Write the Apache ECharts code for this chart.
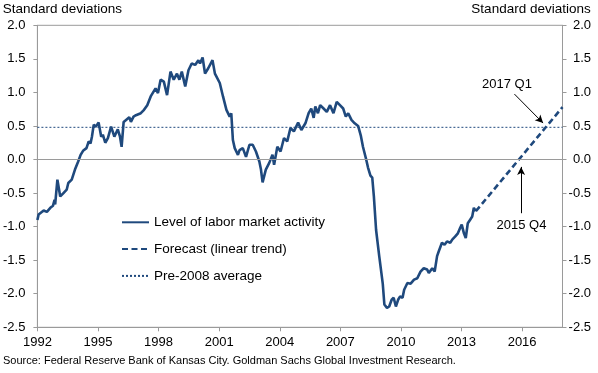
<!DOCTYPE html>
<html>
<head>
<meta charset="utf-8">
<script src="https://cdn.jsdelivr.net/npm/echarts@6/dist/echarts.min.js"></script>
<style>
html,body{margin:0;padding:0;background:#fff;}
#chart{width:598px;height:373px;}
</style>
</head>
<body>
<div id="chart"></div>
<script>
// ---- data ----
const seriesNames = ['Level of labor market activity', 'Forecast (linear trend)', 'Pre-2008 average'];
const years = [
1992.00,1992.06,1992.15,1992.31,1992.39,1992.47,1992.55,1992.64,1992.77,1992.85,1992.88,1992.99,
1993.13,1993.16,1993.29,1993.37,1993.45,1993.53,1993.70,1993.86,1994.02,1994.14,1994.26,1994.43,
1994.54,1994.63,1994.70,1994.79,1994.89,1995.03,1995.16,1995.24,1995.36,1995.49,1995.65,1995.81,
1995.90,1995.98,1996.09,1996.17,1996.27,1996.39,1996.55,1996.63,1996.71,1996.76,1996.88,1997.12,
1997.28,1997.44,1997.61,1997.85,1997.97,1998.10,1998.26,1998.42,1998.59,1998.75,1998.91,1999.03,
1999.15,1999.32,1999.48,1999.64,1999.81,1999.97,2000.05,2000.18,2000.30,2000.46,2000.67,2000.79,
2001.03,2001.19,2001.36,2001.52,2001.60,2001.68,2001.77,2001.84,2001.93,2002.01,2002.17,2002.33,
2002.50,2002.66,2002.82,2002.99,2003.07,2003.15,2003.31,2003.48,2003.64,2003.72,2003.88,2004.04,
2004.21,2004.37,2004.53,2004.70,2004.91,2005.07,2005.27,2005.43,2005.56,2005.68,2005.76,2005.89,
2006.00,2006.17,2006.33,2006.49,2006.66,2006.82,2006.98,2007.14,2007.27,2007.39,2007.55,2007.71,
2007.88,2008.01,2008.12,2008.28,2008.37,2008.49,2008.58,2008.66,2008.77,2008.93,2009.10,2009.18,
2009.31,2009.42,2009.54,2009.64,2009.75,2009.86,2009.96,2010.08,2010.16,2010.32,2010.48,2010.65,
2010.81,2010.97,2011.13,2011.30,2011.38,2011.55,2011.67,2011.79,2011.87,2012.03,2012.16,2012.28,
2012.44,2012.55,2012.68,2012.82,2012.93,2013.01,2013.12,2013.21,2013.31,2013.42,2013.53,2013.61,
2013.71
];
const activity = [
-0.90,-0.82,-0.80,-0.76,-0.77,-0.78,-0.80,-0.72,-0.69,-0.60,-0.67,-0.30,
-0.55,-0.56,-0.50,-0.48,-0.45,-0.35,-0.30,-0.15,-0.03,0.07,0.13,0.17,
0.27,0.24,0.34,0.52,0.49,0.55,0.34,0.37,0.25,0.32,0.49,0.34,
0.32,0.45,0.34,0.19,0.56,0.59,0.63,0.56,0.54,0.64,0.66,0.69,
0.74,0.81,0.94,1.06,0.99,1.19,1.16,0.96,1.31,1.19,1.28,1.19,
1.31,1.09,1.33,1.43,1.41,1.48,1.43,1.52,1.28,1.36,1.48,1.28,
1.14,0.94,0.74,0.64,0.69,0.29,0.17,0.19,0.07,0.14,0.17,0.04,
0.22,0.22,0.12,-0.03,-0.15,-0.34,-0.15,-0.05,0.07,-0.08,0.19,0.12,
0.32,0.27,0.47,0.42,0.55,0.44,0.54,0.69,0.76,0.62,0.79,0.69,
0.81,0.76,0.71,0.81,0.69,0.86,0.81,0.76,0.64,0.69,0.59,0.54,
0.50,0.36,0.19,0.00,-0.12,-0.24,-0.27,-0.55,-1.05,-1.45,-1.85,-2.16,
-2.21,-2.19,-2.09,-2.06,-2.19,-2.09,-2.04,-2.06,-1.94,-1.84,-1.85,-1.79,
-1.77,-1.67,-1.62,-1.64,-1.69,-1.62,-1.67,-1.44,-1.37,-1.24,-1.27,-1.22,
-1.24,-1.19,-1.15,-1.10,-1.02,-0.97,-1.10,-1.17,-0.95,-0.90,-0.85,-0.72,
-0.77
];
const forecastYears = [2013.71, 2018];
const forecastValues = [-0.77, 0.78];
const averageYears = [1992, 2018];
const averageValues = [0.48, 0.48];
const annotationTexts = ['2017 Q1', '2015 Q4'];
const arrow2017Q1 = [[2015.62, 0.975], [2017.04, 0.543]];
const arrow2015Q4 = [[2015.95, -0.80], [2015.95, -0.11]];
const axisTitle = 'Standard deviations';
const sourceText = 'Source: Federal Reserve Bank of Kansas City. Goldman Sachs Global Investment Research.';

// ---- chart ----
const zip = (xs, ys) => xs.map((x, i) => [x, ys[i]]);
const FONT = 'Liberation Sans, Arial, sans-serif';
const GREY = '#9a9a9a';
const BLUE = '#1F497D';

const chart = echarts.init(document.getElementById('chart'), null, {renderer: 'canvas'});

const yAxisBase = {
  type: 'value', min: -2.5, max: 2, interval: 0.5,
  axisLine: {show: true, lineStyle: {color: GREY, width: 1}},
  axisTick: {show: true, length: 4, lineStyle: {color: GREY}},
  splitLine: {show: false},
  axisLabel: {fontFamily: FONT, fontSize: 13, color: '#000', formatter: v => v.toFixed(1)}
};

chart.setOption({
  animation: false,
  grid: {left: 31.5, right: 35.5, top: 25.3, bottom: 45.7, show: true, borderColor: GREY, borderWidth: 1, containLabel: false},
  xAxis: {
    type: 'value', min: 1992, max: 2018, interval: 3,
    axisLine: {show: true, onZero: false, lineStyle: {color: GREY, width: 1}},
    axisTick: {show: true, length: 4, lineStyle: {color: GREY}},
    splitLine: {show: false},
    axisLabel: {fontFamily: FONT, fontSize: 13, color: '#000', margin: 9, showMaxLabel: false, formatter: v => String(Math.round(v))}
  },
  yAxis: [
    Object.assign({}, yAxisBase, {position: 'left', axisLabel: Object.assign({}, yAxisBase.axisLabel, {margin: 12})}),
    Object.assign({}, yAxisBase, {position: 'right', axisLabel: Object.assign({}, yAxisBase.axisLabel, {margin: 28.5, align: 'right'})})
  ],
  legend: {
    data: seriesNames,
    orient: 'vertical',
    left: 121, top: 215.3,
    padding: 0,
    itemWidth: 27, itemHeight: 14, itemGap: 12.8,
    itemStyle: {opacity: 0, color: 'rgba(0,0,0,0)', borderWidth: 0},
    textStyle: {fontFamily: FONT, fontSize: 13.5, color: '#000'}
  },
  graphic: [
    {type: 'text', left: 2.7, top: 2, style: {text: axisTitle, font: '13.5px ' + FONT, fill: '#000'}},
    {type: 'text', right: 7.3, top: 2, style: {text: axisTitle, font: '13.5px ' + FONT, fill: '#000'}},
    {type: 'text', left: 3, top: 355.5, style: {text: sourceText, font: '11px ' + FONT, fill: '#000'}},
    {type: 'text', x: 507, y: 84.7, style: {text: annotationTexts[0], font: '13px ' + FONT, fill: '#000', align: 'center', verticalAlign: 'middle'}},
    {type: 'text', x: 521.5, y: 225.5, style: {text: annotationTexts[1], font: '13px ' + FONT, fill: '#000', align: 'center', verticalAlign: 'middle'}}
  ],
  series: [
    {
      name: seriesNames[2], type: 'line', data: zip(averageYears, averageValues),
      symbol: 'none', showSymbol: false,
      lineStyle: {color: BLUE, width: 1, type: [2, 2]}, itemStyle: {color: BLUE},
      z: 2,
      markLine: {
        silent: true, symbol: 'none', label: {show: false},
        lineStyle: {color: GREY, width: 1, type: 'solid'},
        data: [{yAxis: 0}]
      }
    },
    {
      name: seriesNames[0], type: 'line', data: zip(years, activity),
      symbol: 'none', showSymbol: false,
      lineStyle: {color: BLUE, width: 2.6}, itemStyle: {color: BLUE},
      z: 4,
      markLine: {
        silent: true, symbol: ['none', 'arrow'], symbolSize: [6, 8],
        label: {show: false},
        lineStyle: {color: '#000', width: 1, type: 'solid'},
        data: [
          [{coord: arrow2017Q1[0]}, {coord: arrow2017Q1[1]}],
          [{coord: arrow2015Q4[0]}, {coord: arrow2015Q4[1]}]
        ]
      }
    },
    {
      name: seriesNames[1], type: 'line', data: zip(forecastYears, forecastValues),
      symbol: 'none', showSymbol: false,
      lineStyle: {color: BLUE, width: 2.6, type: [6, 3.5]}, itemStyle: {color: BLUE},
      z: 3
    }
  ]
});
</script>
</body>
</html>
